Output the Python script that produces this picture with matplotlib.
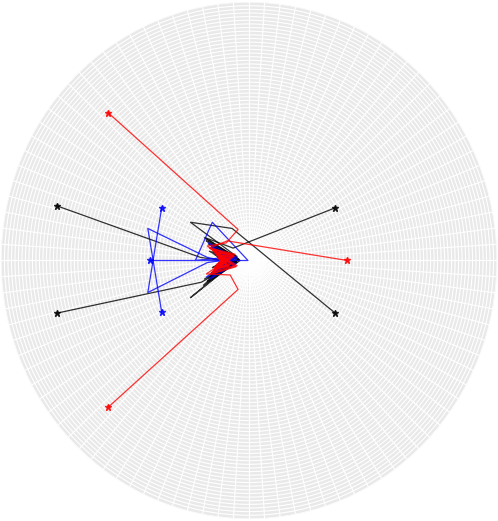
import numpy as np
import matplotlib
matplotlib.use("Agg")
import matplotlib.pyplot as plt

# iterates as (real, imag) pairs, one list per trajectory
black_re = [
    [0.87, -0.16, -0.44, -0.10, -0.42, -0.14, -0.38, -0.12, -0.36, -0.20, -0.40, -0.18, -0.33, -0.22, -0.35, -0.25, -0.31, -0.27, -0.29],
    [0.87, -0.17, -0.59, -0.14, -0.46, -0.09, -0.43, -0.16, -0.39, -0.13, -0.35, -0.21, -0.37, -0.24, -0.32, -0.26, -0.29],
    [-1.94, -0.49, -0.12, -0.45, -0.10, -0.41, -0.15, -0.38, -0.19, -0.36, -0.22, -0.33, -0.24, -0.31, -0.27, -0.29],
    [-1.94, -0.48, -0.24, -0.59, -0.12, -0.45, -0.11, -0.41, -0.16, -0.37, -0.20, -0.34, -0.23, -0.32, -0.26, -0.29],
]
black_im = [
    [0.51, 0.12, 0.22, 0.01, -0.20, -0.03, 0.15, 0.04, -0.13, -0.02, 0.09, 0.03, -0.09, -0.01, 0.06, 0.01, -0.03, 0.00, 0.00],
    [-0.51, 0.31, 0.37, 0.05, -0.24, 0.00, 0.19, 0.03, -0.16, -0.01, 0.11, 0.02, -0.07, -0.01, 0.04, 0.00, 0.00],
    [0.53, 0.03, -0.02, -0.18, 0.01, 0.16, 0.02, -0.12, -0.02, 0.09, 0.01, -0.06, 0.00, 0.03, 0.00, 0.00],
    [-0.51, -0.21, -0.08, -0.36, 0.00, 0.22, 0.02, -0.17, -0.01, 0.12, 0.02, -0.08, 0.00, 0.04, 0.00, 0.00],
]

blue_re = [
    [-1.00, -0.01, -0.37, -0.54, -0.13, -0.43, -0.15, -0.38, -0.18, -0.36, -0.21, -0.33, -0.24, -0.31, -0.27, -0.29],
    [-0.88, -1.02, -0.42, -0.12, -0.41, -0.16, -0.37, -0.19, -0.35, -0.22, -0.32, -0.26, -0.29],
    [-0.88, -1.02, -0.42, -0.13, -0.40, -0.17, -0.38, -0.20, -0.34, -0.23, -0.31, -0.27, -0.29],
]
blue_im = [
    [0.00, 0.00, 0.37, 0.00, 0.04, -0.16, 0.01, 0.13, -0.02, -0.10, 0.02, 0.06, -0.01, -0.03, 0.01, 0.00],
    [0.51, -0.31, -0.02, 0.02, 0.17, -0.03, -0.12, 0.02, 0.08, -0.01, -0.05, 0.01, 0.00],
    [-0.50, 0.31, 0.03, -0.03, -0.18, 0.02, 0.13, -0.01, -0.09, 0.01, 0.05, 0.00, 0.00],
]

red_re = [
    [0.99, -0.22, -0.40, -0.12, -0.39, -0.15, -0.37, -0.18, -0.36, -0.17, -0.34, -0.21, -0.35, -0.19, -0.33, -0.23, -0.32, -0.24, -0.31, -0.26, -0.30, -0.28, -0.29],
    [-1.42, -0.11, -0.23, -0.42, -0.13, -0.38, -0.16, -0.36, -0.19, -0.35, -0.20, -0.33, -0.22, -0.34, -0.24, -0.31, -0.25, -0.30, -0.27, -0.29],
    [-1.42, -0.11, -0.19, -0.43, -0.14, -0.39, -0.15, -0.37, -0.18, -0.36, -0.21, -0.34, -0.20, -0.32, -0.23, -0.33, -0.25, -0.31, -0.27, -0.29],
]
red_im = [
    [0.00, 0.19, 0.12, -0.05, -0.13, 0.04, 0.11, -0.03, -0.10, 0.06, 0.08, -0.05, -0.07, 0.03, 0.06, -0.02, -0.05, 0.04, 0.03, -0.02, -0.02, 0.01, 0.00],
    [1.43, 0.30, 0.17, 0.14, -0.06, -0.13, 0.05, 0.11, -0.04, -0.09, 0.07, 0.07, -0.05, -0.06, 0.04, 0.04, -0.02, -0.03, 0.01, 0.00],
    [-1.42, -0.28, -0.14, -0.13, 0.06, 0.12, -0.05, -0.11, 0.04, 0.09, -0.06, -0.07, 0.05, 0.05, -0.03, -0.04, 0.02, 0.02, -0.01, 0.00],
]

fig = plt.figure(figsize=(4.98, 5.21), dpi=100)
ax = fig.add_axes([0.002, 0.004, 0.996, 0.992], projection='polar')
ax.set_aspect('auto')
ax.set_facecolor('#e9e9e9')
ax.spines['polar'].set_visible(False)

ax.set_thetagrids(np.arange(0, 360, 3.6), labels=[])
ax.set_rgrids(np.linspace(0.035, 2.5, 71), labels=[])
ax.grid(True, color='white', linewidth=0.8)
ax.tick_params(length=0)

def draw(res, ims, color):
    for re, im in zip(res, ims):
        re = np.array(re)
        im = np.array(im)
        ax.plot(np.arctan2(im, re), np.hypot(re, im), color=color, lw=0.9,
                alpha=0.8, marker='*', markevery=[0], markersize=5)

draw(black_re, black_im, 'black')
draw(blue_re, blue_im, 'blue')
draw(red_re, red_im, 'red')

ax.set_rlim(0, 2.5)
fig.savefig('out.png', dpi=100)
